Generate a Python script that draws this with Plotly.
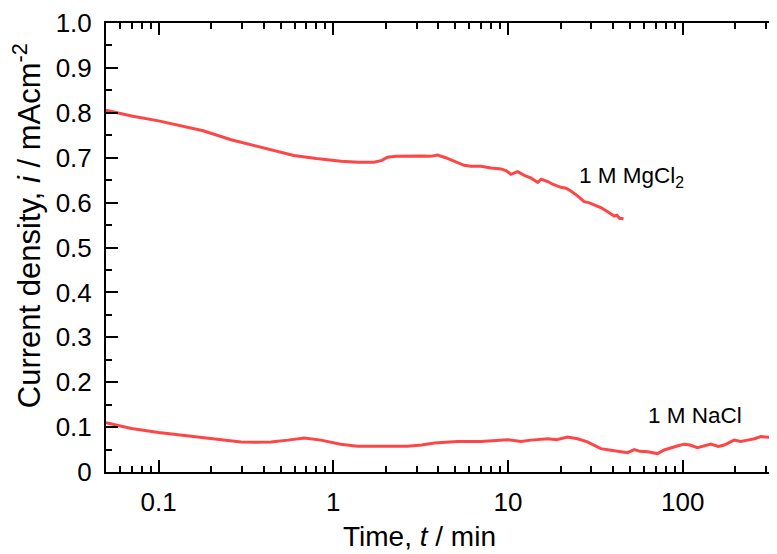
import math
import plotly.graph_objects as go

# ---- data ----
t_mgcl2 = [0.05, 0.07, 0.1, 0.134, 0.18, 0.26, 0.35, 0.45, 0.594, 0.8, 1.107, 1.4, 1.71, 1.9, 2.04,
           2.3, 2.66, 3.2, 3.6, 3.95, 4.4, 5.14, 5.61, 6.14, 7.0, 8.0, 9.12, 9.8, 10.4, 11.35, 12.5,
           13.5, 14.8, 15.5, 16.9, 18.0, 20.1, 21.5, 22.9, 25.0, 27.3, 29.0, 31.0, 34.0, 37.0, 40.6,
           42.0, 43.5, 45.9]
i_mgcl2 = [0.806, 0.793, 0.782, 0.771, 0.760, 0.740, 0.728, 0.717, 0.705, 0.698, 0.692, 0.690, 0.690,
           0.694, 0.701, 0.703, 0.704, 0.704, 0.703, 0.706, 0.700, 0.690, 0.683, 0.681, 0.681, 0.677,
           0.675, 0.671, 0.663, 0.669, 0.660, 0.655, 0.645, 0.652, 0.647, 0.641, 0.634, 0.632, 0.626,
           0.615, 0.602, 0.600, 0.596, 0.589, 0.580, 0.570, 0.572, 0.565, 0.564]

t_nacl = [0.05, 0.07, 0.1, 0.134, 0.18, 0.248, 0.296, 0.36, 0.44, 0.55, 0.681, 0.85, 1.1, 1.377, 1.8,
          2.66, 3.2, 3.79, 5.14, 7.0, 9.95, 11.9, 13.5, 16.9, 19.0, 21.9, 25.0, 28.5, 31.0, 34.0, 38.0,
          42.4, 48.4, 52.8, 57.0, 62.9, 71.8, 78.4, 85.6, 93.0, 102.0, 110.0, 121.6, 133.0, 145.0,
          160.0, 173.0, 197.0, 215.0, 235.0, 258.0, 280.0, 320.0, 350.0]
i_nacl = [0.110, 0.097, 0.088, 0.082, 0.076, 0.0706, 0.067, 0.066, 0.067, 0.071, 0.0757, 0.071, 0.062,
          0.0574, 0.057, 0.0574, 0.060, 0.0647, 0.068, 0.068, 0.072, 0.068, 0.071, 0.074, 0.072, 0.078,
          0.074, 0.067, 0.060, 0.052, 0.049, 0.047, 0.043, 0.050, 0.046, 0.045, 0.041, 0.049, 0.054,
          0.058, 0.062, 0.060, 0.054, 0.058, 0.062, 0.057, 0.060, 0.071, 0.068, 0.071, 0.074, 0.079,
          0.077, 0.082]

x_major = [0.1, 1, 10, 100]
x_major_text = ["0.1", "1", "10", "100"]
x_minor = [m * 10 ** e for e in range(-2, 3) for m in range(2, 10)]
y_major = [round(0.1 * k, 1) for k in range(11)]
y_major_text = ["0"] + [f"{v:.1f}" for v in y_major[1:]]

label_mgcl2 = "1 M MgCl<sub>2</sub>"
label_nacl = "1 M NaCl"

RED = "#ff4646"
FONT = "Liberation Sans, Arial, sans-serif"

# page body has an 8px default margin; the figure is sized so the plot lands where the reference has it
PAGE_OFF = 8
W, H = 777 - PAGE_OFF, 554 - PAGE_OFF
ML, MT = 106 - PAGE_OFF, 19 - PAGE_OFF
PW, PH = W - ML, 453

fig = go.Figure()
fig.add_trace(go.Scatter(x=t_mgcl2, y=i_mgcl2, mode="lines",
                         line=dict(color=RED, width=3), showlegend=False))
fig.add_trace(go.Scatter(x=t_nacl, y=i_nacl, mode="lines",
                         line=dict(color=RED, width=3), showlegend=False))

fig.update_layout(
    width=W, height=H,
    margin=dict(l=ML, r=0, t=MT, b=H - MT - PH),
    paper_bgcolor="white", plot_bgcolor="white",
    font=dict(family=FONT, color="black"),
    xaxis=dict(
        type="log", range=[math.log10(0.05), 2.54],
        showline=True, linecolor="black", linewidth=2, mirror="ticks",
        ticks="inside", ticklen=12, tickwidth=1.5, tickcolor="black",
        tickvals=x_major, ticktext=x_major_text,
        tickfont=dict(size=26, family=FONT), ticklabelstandoff=6,
        ticklabeloverflow="allow",
        minor=dict(tickvals=x_minor, ticks="inside", ticklen=6, tickwidth=1.5, tickcolor="black"),
        showgrid=False, zeroline=False,
    ),
    yaxis=dict(
        range=[0, 1],
        showline=True, linecolor="black", linewidth=2,
        ticks="inside", ticklen=12, tickwidth=1.5, tickcolor="black",
        tickvals=y_major, ticktext=y_major_text,
        tickfont=dict(size=26, family=FONT), ticklabelstandoff=7,
        ticklabeloverflow="allow",
        minor=dict(dtick=0.05, ticks="inside", ticklen=6, tickwidth=1.5, tickcolor="black"),
        showgrid=False, zeroline=False,
    ),
)

# axis titles as annotations (positioned like the reference, in page pixels)
def px_x(p):
    return (p - 106) / PW

def px_y(p):
    return (472 - p) / PH

fig.add_annotation(text="Time, <i>t</i> / min", xref="paper", yref="paper",
                   x=px_x(419), y=px_y(537), xanchor="center", yanchor="middle",
                   showarrow=False, font=dict(size=28, family=FONT))
fig.add_annotation(text="Current density, <i>i</i> / mAcm<sup>-2</sup>", xref="paper", yref="paper",
                   x=px_x(27), y=px_y(224), xanchor="center", yanchor="middle",
                   textangle=-90, showarrow=False, font=dict(size=31, family=FONT))

fig.add_annotation(text=label_mgcl2, x=math.log10(50.8), y=0.658, xref="x", yref="y",
                   showarrow=False, font=dict(size=22.5, family=FONT))
fig.add_annotation(text=label_nacl, x=math.log10(117), y=0.126, xref="x", yref="y",
                   showarrow=False, font=dict(size=22.5, family=FONT))

fig.write_html("out.html")
